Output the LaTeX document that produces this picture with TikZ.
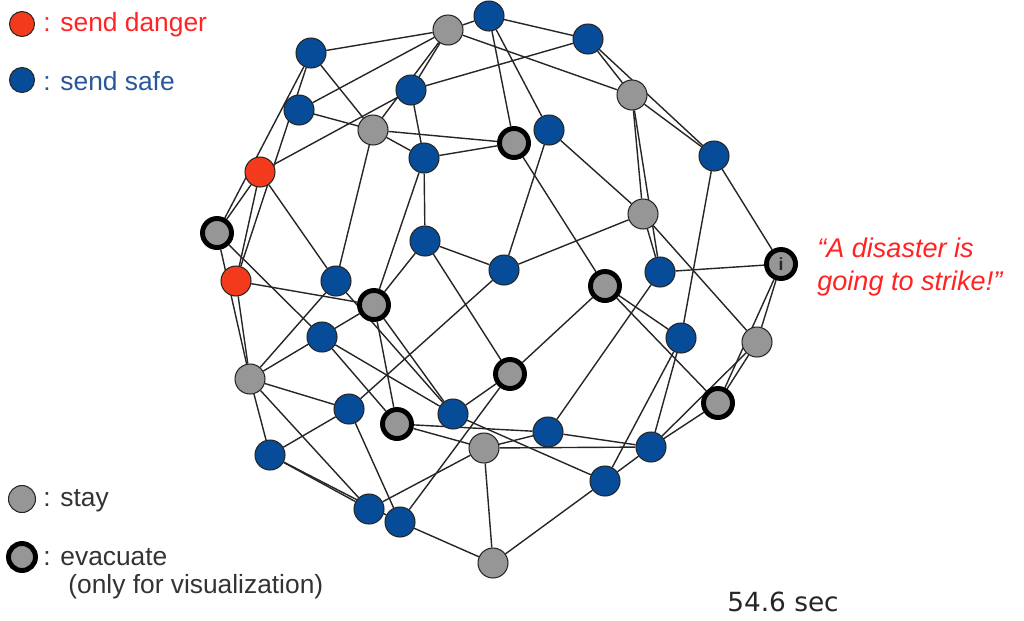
\documentclass[tikz,border=0pt]{standalone}
\usepackage{fontspec}
\setmainfont{Liberation Sans}
\newfontfamily\clockfont{DejaVu Sans}
\usetikzlibrary{backgrounds}
\definecolor{safeblue}{RGB}{6,76,152}
\definecolor{dangerred}{RGB}{243,58,28}
\definecolor{staygrey}{RGB}{150,150,150}
\definecolor{textred}{RGB}{255,35,35}
\definecolor{textblue}{RGB}{40,85,155}

\begin{document}
\begin{tikzpicture}[x=0.02cm,y=-0.02cm]

%
% Styles
%
\tikzstyle{vertex} = [circle,draw=black!85,line width=0.6pt,minimum size=0.6cm,inner sep=0pt]
\tikzstyle{safe}   = [vertex,fill=safeblue]
\tikzstyle{danger} = [vertex,fill=dangerred]
\tikzstyle{stay}   = [vertex,fill=staygrey]
\tikzstyle{evac}   = [vertex,fill=staygrey,draw=black,line width=2.8pt,minimum size=0.58cm]
\tikzstyle{edge}   = [line width=0.8pt,draw=black!85]
\tikzstyle{legend} = [anchor=west,inner sep=0pt,font=\fontsize{15}{17}\selectfont]

\useasboundingbox (0,0) rectangle (1024,620);

% legend
\node[danger,minimum size=0.5cm] (ldanger) at (22,24)  {};
\node[safe,minimum size=0.5cm]   (lsafe)   at (22,80)  {};
\node[stay,minimum size=0.54cm]  (lstay)   at (22,499) {};
\node[evac,minimum size=0.54cm]  (levac)   at (22,557) {};
\node[legend,text=textred]  at (43,25)  {: send danger};
\node[legend,text=textblue] at (43,81)  {: send safe};
\node[legend,text=black!80] at (43,501) {: stay};
\node[legend,text=black!80,align=left,anchor=north west] at (43,548)
  {: evacuate\\[-1pt]\hspace{0.95em}(only for visualization)};

% network
\node[safe]   (v1)  at (489,16)  {};
\node[stay]   (v2)  at (448,30)  {};
\node[safe]   (v3)  at (588,39)  {};
\node[safe]   (v4)  at (311,53)  {};
\node[stay]   (v5)  at (632,95)  {};
\node[safe]   (v6)  at (411,90)  {};
\node[safe]   (v7)  at (299,110) {};
\node[stay]   (v8)  at (373,130) {};
\node[evac]   (v9)  at (514,143) {};
\node[safe]   (v10) at (549,130) {};
\node[safe]   (v11) at (424,158) {};
\node[danger] (v12) at (260,172) {};
\node[safe]   (v13) at (714,156) {};
\node[stay]   (v14) at (643,214) {};
\node[evac]   (v15) at (217,233) {};
\node[safe]   (v16) at (425,241) {};
\node[evac,font=\bfseries\fontsize{10}{10}\selectfont,text=black!85] (v17) at (781,264) {i};
\node[safe]   (v18) at (504,270) {};
\node[safe]   (v19) at (660,272) {};
\node[danger] (v20) at (236,281) {};
\node[safe]   (v21) at (336,281) {};
\node[evac]   (v22) at (605,286) {};
\node[evac]   (v23) at (374,305) {};
\node[safe]   (v24) at (322,337) {};
\node[safe]   (v25) at (681,338) {};
\node[stay]   (v26) at (757,342) {};
\node[evac]   (v27) at (510,374) {};
\node[stay]   (v28) at (250,379) {};
\node[evac]   (v29) at (718,403) {};
\node[safe]   (v30) at (349,409) {};
\node[evac]   (v31) at (397,424) {};
\node[safe]   (v32) at (453,414) {};
\node[safe]   (v33) at (548,432) {};
\node[stay]   (v34) at (484,448) {};
\node[safe]   (v35) at (651,447) {};
\node[safe]   (v36) at (270,455) {};
\node[safe]   (v37) at (605,481) {};
\node[safe]   (v38) at (369,509) {};
\node[safe]   (v39) at (400,522) {};
\node[stay]   (v40) at (493,563) {};

\begin{scope}[on background layer]
\foreach \a/\b in {v1/v2,v1/v3,v1/v9,v1/v10,
    v2/v4,v2/v5,v2/v6,v2/v8,v2/v7,
    v3/v6,v3/v5,v3/v13,
    v4/v8,v4/v15,v4/v20,
    v5/v13,v5/v14,v5/v19,
    v6/v11,v6/v12,v7/v8,
    v8/v9,v8/v11,v8/v21,v9/v11,v9/v22,
    v10/v14,v10/v18,v11/v16,v11/v23,
    v12/v15,v12/v20,v12/v21,
    v13/v17,v13/v25,v14/v18,v14/v19,v14/v26,
    v15/v28,v15/v24,v16/v18,v16/v23,v16/v27,
    v17/v19,v17/v26,v17/v29,v18/v30,v19/v33,
    v20/v23,v20/v28,v21/v32,v21/v28,
    v22/v25,v22/v27,v22/v29,
    v23/v28,v23/v31,v23/v32,v24/v31,v24/v32,
    v25/v35,v25/v37,v26/v29,v26/v35,
    v27/v32,v27/v39,v28/v30,v28/v36,v28/v38,
    v29/v35,v30/v36,v30/v39,v31/v33,v31/v34,
    v32/v37,v33/v34,v33/v35,v34/v35,v34/v38,v34/v40,
    v35/v37,v36/v38,v36/v39,v37/v40,v39/v40}
  \draw[edge] (\a) -- (\b);
\end{scope}

% message and clock
\node[legend,text=textred,align=left,font=\itshape\fontsize{15.4}{18.7}\selectfont,anchor=north west]
  (msg) at (817,238) {``A disaster is\\going to strike!''};
\node[font=\clockfont\fontsize{15}{18}\selectfont,text=black!85] (clock) at (783,602) {54.6 sec};

\end{tikzpicture}
\end{document}
